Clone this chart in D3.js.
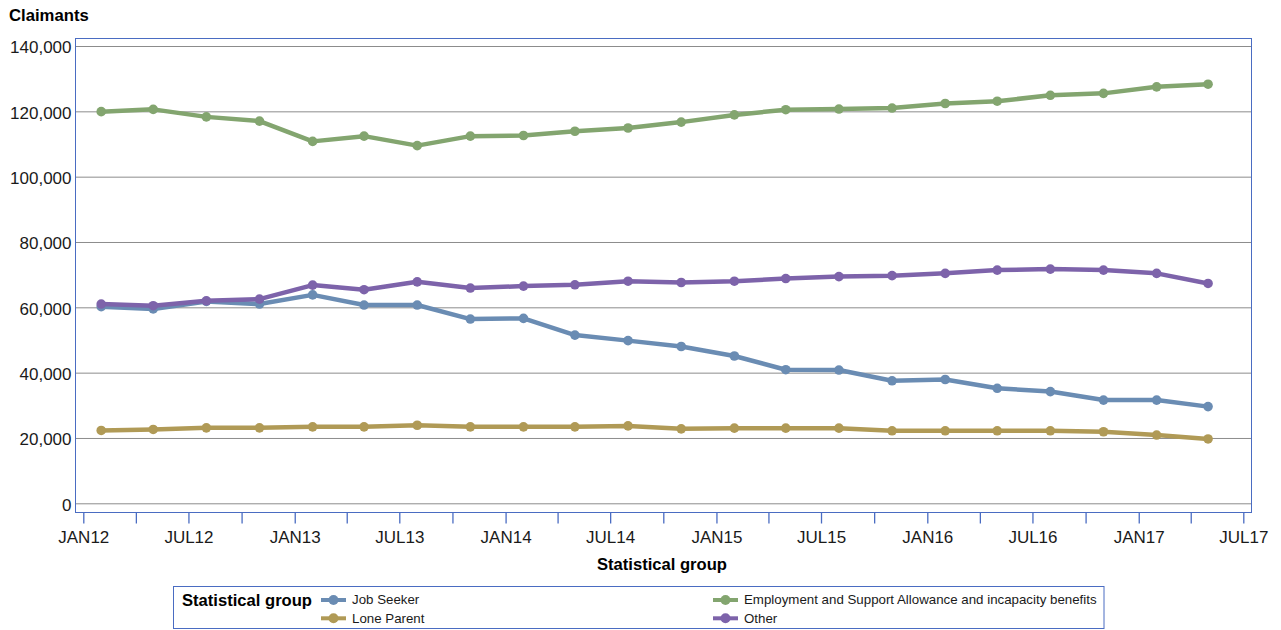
<!DOCTYPE html>
<html>
<head>
<meta charset="utf-8">
<script src="https://cdn.jsdelivr.net/npm/d3@7"></script>
<style>
  html, body { margin: 0; padding: 0; background: #fff; }
  svg { display: block; font-family: Arial, "Liberation Sans", sans-serif; }
</style>
</head>
<body>
<svg id="chart" width="1281" height="630"></svg>
<script>
// ---- data ----
const dates = ["2012-02-01","2012-05-01","2012-08-01","2012-11-01",
               "2013-02-01","2013-05-01","2013-08-01","2013-11-01",
               "2014-02-01","2014-05-01","2014-08-01","2014-11-01",
               "2015-02-01","2015-05-01","2015-08-01","2015-11-01",
               "2016-02-01","2016-05-01","2016-08-01","2016-11-01",
               "2017-02-01","2017-05-01"];
const jobSeeker = [60200, 59500, 61800, 61000, 63800, 60700, 60700, 56400, 56600, 51500, 49800,
                   48000, 45100, 40900, 40800, 37500, 37900, 35200, 34200, 31600, 31600, 29600];
const esa = [119900, 120600, 118300, 117000, 110800, 112400, 109500, 112400, 112600, 113900, 114900,
             116700, 118900, 120500, 120700, 121000, 122400, 123100, 124900, 125500, 127500, 128300];
const loneParent = [22300, 22600, 23100, 23100, 23400, 23400, 23900, 23400, 23400, 23400, 23700,
                    22800, 23000, 23000, 23000, 22200, 22200, 22200, 22200, 21900, 20900, 19700];
const other = [61000, 60500, 62000, 62500, 66800, 65400, 67800, 65900, 66500, 66900, 68000,
               67600, 68000, 68800, 69400, 69700, 70400, 71400, 71700, 71400, 70400, 67300];
const seriesNames = ["Job Seeker", "Employment and Support Allowance and incapacity benefits", "Lone Parent", "Other"];
const seriesColors = ["#6a8cb3", "#83a56f", "#b09a56", "#7d63aa"];
const yTicks = [0, 20000, 40000, 60000, 80000, 100000, 120000, 140000];
const monthNames = ["JAN","FEB","MAR","APR","MAY","JUN","JUL","AUG","SEP","OCT","NOV","DEC"];

const seriesValues = [jobSeeker, esa, loneParent, other];
const parsed = dates.map(d => new Date(d + "T00:00:00Z"));
const series = seriesNames.map((name, i) => ({
  name, color: seriesColors[i],
  points: parsed.map((d, j) => ({ date: d, value: seriesValues[i][j] }))
}));

// ---- layout ----
const svg = d3.select("#chart");
const frame = { left: 75.5, right: 1251.5, top: 38.5, bottom: 512.5 };
const frameColor = "#4a6cc2";
const textColor = "#1a1a1a";

const x = d3.scaleUtc()
  .domain([new Date(Date.UTC(2012, 0, 1)), new Date(Date.UTC(2017, 6, 1))])
  .range([83.3, 1243.3]);
const y = d3.scaleLinear().domain([0, 140000]).range([503.3, 46]);

// gridlines
svg.append("g")
  .attr("transform", `translate(${frame.left},0)`)
  .call(d3.axisLeft(y).tickValues(yTicks).tickSize(-(frame.right - frame.left)).tickFormat(""))
  .call(g => g.select(".domain").remove())
  .call(g => g.selectAll("line").attr("stroke", "#8c8c8c").attr("stroke-width", 1));

// y tick labels
svg.append("g")
  .attr("transform", `translate(${frame.left},0)`)
  .call(d3.axisLeft(y).tickValues(yTicks).tickSize(0).tickPadding(4).tickFormat(d3.format(",")))
  .call(g => g.select(".domain").remove())
  .call(g => g.selectAll("text")
    .attr("fill", textColor).attr("font-size", "17px")
    .attr("font-family", "Arial, 'Liberation Sans', sans-serif")
    .attr("dy", "0.4em"));

// frame
svg.append("rect")
  .attr("x", frame.left).attr("y", frame.top)
  .attr("width", frame.right - frame.left).attr("height", frame.bottom - frame.top)
  .attr("fill", "none").attr("stroke", frameColor).attr("stroke-width", 1);

// x axis ticks & labels
const xTickVals = d3.utcMonth.every(3).range(new Date(Date.UTC(2012, 0, 1)), new Date(Date.UTC(2017, 6, 2)));
svg.append("g")
  .attr("transform", `translate(0,${frame.bottom})`)
  .call(d3.axisBottom(x).tickValues(xTickVals).tickSize(11).tickPadding(7)
    .tickFormat(d => (d.getUTCMonth() % 6 === 0) ? monthNames[d.getUTCMonth()] + String(d.getUTCFullYear()).slice(2) : ""))
  .call(g => g.select(".domain").remove())
  .call(g => g.selectAll("line").attr("stroke", frameColor).attr("stroke-width", 1.3))
  .call(g => g.selectAll("text")
    .attr("fill", textColor).attr("font-size", "17px")
    .attr("font-family", "Arial, 'Liberation Sans', sans-serif"));

// lines
const line = d3.line().x(d => x(d.date)).y(d => y(d.value));
const plot = svg.append("g");
series.forEach(s => {
  plot.append("path")
    .datum(s.points)
    .attr("d", line)
    .attr("fill", "none")
    .attr("stroke", s.color)
    .attr("stroke-width", 4.5)
    .attr("stroke-linejoin", "round")
    .attr("stroke-linecap", "round");
  plot.selectAll(null)
    .data(s.points)
    .enter().append("circle")
    .attr("cx", d => x(d.date))
    .attr("cy", d => y(d.value))
    .attr("r", 4.8)
    .attr("fill", s.color);
});

// titles
svg.append("text")
  .attr("x", 9).attr("y", 21)
  .attr("font-size", "16.7px").attr("font-weight", "bold").attr("fill", "#000")
  .text("Claimants");

svg.append("text")
  .attr("x", 662).attr("y", 569.5)
  .attr("text-anchor", "middle")
  .attr("font-size", "16.6px").attr("font-weight", "bold").attr("fill", "#000")
  .text("Statistical group");

// legend
const legend = svg.append("g");
legend.append("rect")
  .attr("x", 173.5).attr("y", 586.5)
  .attr("width", 930.5).attr("height", 42)
  .attr("fill", "#fff").attr("stroke", frameColor).attr("stroke-width", 1);
legend.append("text")
  .attr("x", 182).attr("y", 606)
  .attr("font-size", "16.6px").attr("font-weight", "bold").attr("fill", "#000")
  .text("Statistical group");

const legendCols = [321, 713];
const legendRows = [600, 618.3];
series.forEach((s, i) => {
  const cx = legendCols[i % 2];
  const cy = legendRows[Math.floor(i / 2)];
  const item = legend.append("g");
  item.append("line")
    .attr("x1", cx).attr("x2", cx + 25)
    .attr("y1", cy).attr("y2", cy)
    .attr("stroke", s.color).attr("stroke-width", 4);
  item.append("circle")
    .attr("cx", cx + 12.5).attr("cy", cy).attr("r", 5)
    .attr("fill", s.color);
  item.append("text")
    .attr("x", cx + 31).attr("y", cy + 4.3)
    .attr("font-size", "13.3px").attr("fill", textColor)
    .text(s.name);
});
</script>
</body>
</html>
